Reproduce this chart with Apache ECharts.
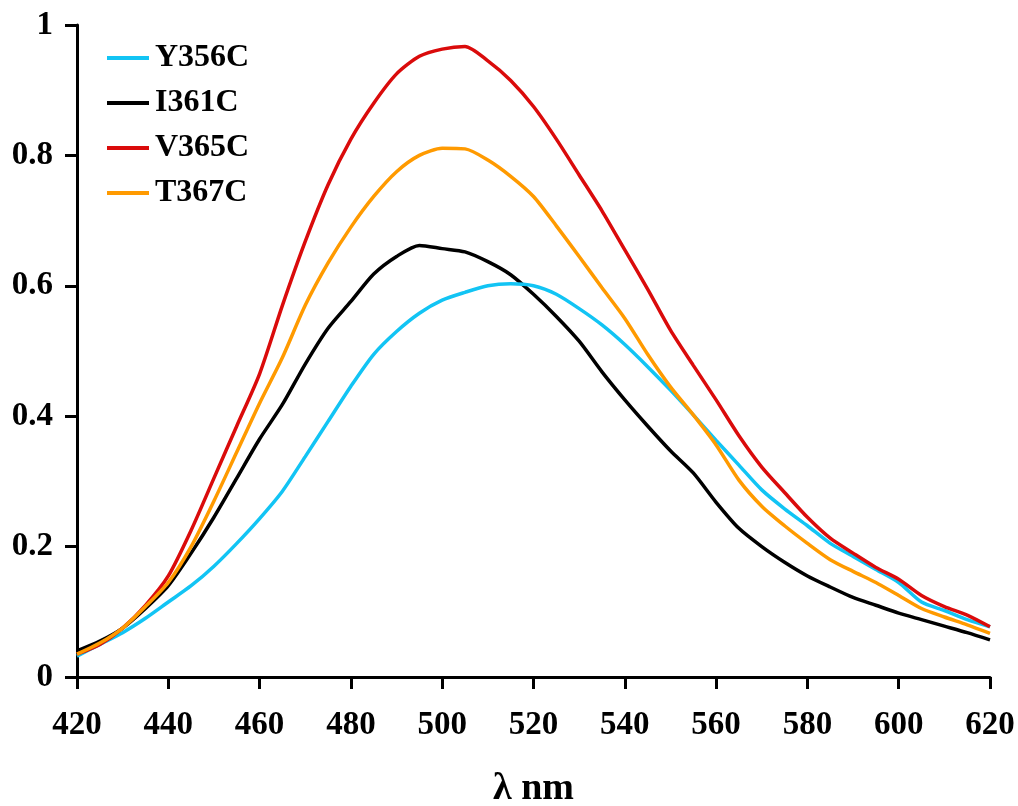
<!DOCTYPE html>
<html>
<head>
<meta charset="utf-8">
<script src="https://cdn.jsdelivr.net/npm/echarts@6/dist/echarts.min.js"></script>
<style>html,body{margin:0;padding:0;background:#fff;}#c{width:1018px;height:806px;}</style>
</head>
<body>
<div id="c"></div>
<script>
var wavelengths = [420,425,430,435,440,445,450,455,460,465,470,475,480,485,490,495,500,505,510,515,520,525,530,535,540,545,550,555,560,565,570,575,580,585,590,595,600,605,610,615,620];
var Y356C = [0.032,0.05,0.068,0.09,0.115,0.14,0.17,0.205,0.243,0.285,0.338,0.392,0.446,0.495,0.53,0.558,0.578,0.59,0.6,0.603,0.6,0.587,0.565,0.54,0.51,0.476,0.44,0.402,0.363,0.325,0.287,0.258,0.232,0.205,0.185,0.165,0.145,0.115,0.102,0.088,0.077];
var I361C = [0.04,0.055,0.075,0.105,0.14,0.19,0.245,0.305,0.365,0.418,0.48,0.535,0.576,0.618,0.645,0.662,0.657,0.652,0.637,0.617,0.587,0.553,0.515,0.468,0.425,0.385,0.347,0.313,0.268,0.228,0.2,0.176,0.155,0.138,0.122,0.11,0.098,0.088,0.078,0.068,0.057];
var V365C = [0.035,0.05,0.075,0.11,0.155,0.225,0.305,0.385,0.465,0.57,0.668,0.755,0.825,0.88,0.925,0.952,0.963,0.967,0.945,0.915,0.875,0.825,0.77,0.715,0.655,0.595,0.532,0.478,0.425,0.37,0.322,0.283,0.245,0.213,0.19,0.168,0.15,0.125,0.108,0.095,0.077];
var T367C = [0.035,0.052,0.075,0.108,0.145,0.2,0.27,0.345,0.42,0.49,0.57,0.635,0.69,0.737,0.775,0.8,0.811,0.81,0.793,0.768,0.737,0.692,0.645,0.597,0.55,0.495,0.445,0.402,0.356,0.302,0.262,0.232,0.205,0.18,0.162,0.145,0.125,0.105,0.092,0.08,0.067];
var seriesNames = ['Y356C','I361C','V365C','T367C'];
var seriesColors = ['#12C4F4','#000000','#DA0B0B','#FF9A00'];
var xTicks = {min:420,max:620,interval:20};
var yTicks = {min:0,max:1,interval:0.2};

function pairs(vals){ return wavelengths.map(function(w,i){ return [w, vals[i]]; }); }
var allData = [Y356C, I361C, V365C, T367C];
var FONT = '"Liberation Serif", "Times New Roman", serif';

var chart = echarts.init(document.getElementById('c'), null, {renderer:'canvas'});
chart.setOption({
  animation:false,
  backgroundColor:'#fff',
  grid:{left:77,right:28,top:25,bottom:129,containLabel:false,outerBoundsMode:'none'},
  legend:{
    orient:'vertical', left:102, top:37,
    itemWidth:42, itemHeight:4, itemGap:13,
    icon:'rect',
    textStyle:{fontFamily:FONT,fontWeight:'bold',fontSize:32,color:'#000',padding:[0,0,0,1]},
    data:seriesNames
  },
  xAxis:{
    type:'value', min:xTicks.min, max:xTicks.max, interval:xTicks.interval,
    name:'λ nm', nameLocation:'middle', nameGap:93,
    nameTextStyle:{fontFamily:FONT,fontWeight:'bold',fontSize:38,color:'#000'},
    axisLine:{show:true,onZero:false,lineStyle:{color:'#000',width:3}},
    axisTick:{show:true,inside:false,length:12,lineStyle:{color:'#000',width:3}},
    axisLabel:{margin:32,fontFamily:FONT,fontWeight:'bold',fontSize:33,color:'#000'},
    splitLine:{show:false}
  },
  yAxis:{
    type:'value', min:yTicks.min, max:yTicks.max, interval:yTicks.interval,
    axisLine:{show:true,onZero:false,lineStyle:{color:'#000',width:3}},
    axisTick:{show:true,inside:false,length:12,lineStyle:{color:'#000',width:3}},
    axisLabel:{margin:24,fontFamily:FONT,fontWeight:'bold',fontSize:33,color:'#000'},
    splitLine:{show:false}
  },
  series: seriesNames.map(function(n,i){
    return {
      name:n, type:'line', data:pairs(allData[i]), showSymbol:false, symbol:'none',
      smooth:0.25, lineStyle:{color:seriesColors[i],width:3.5}, itemStyle:{color:seriesColors[i]},
      z: [3,2,4,5][i]
    };
  })
});
</script>
</body>
</html>
